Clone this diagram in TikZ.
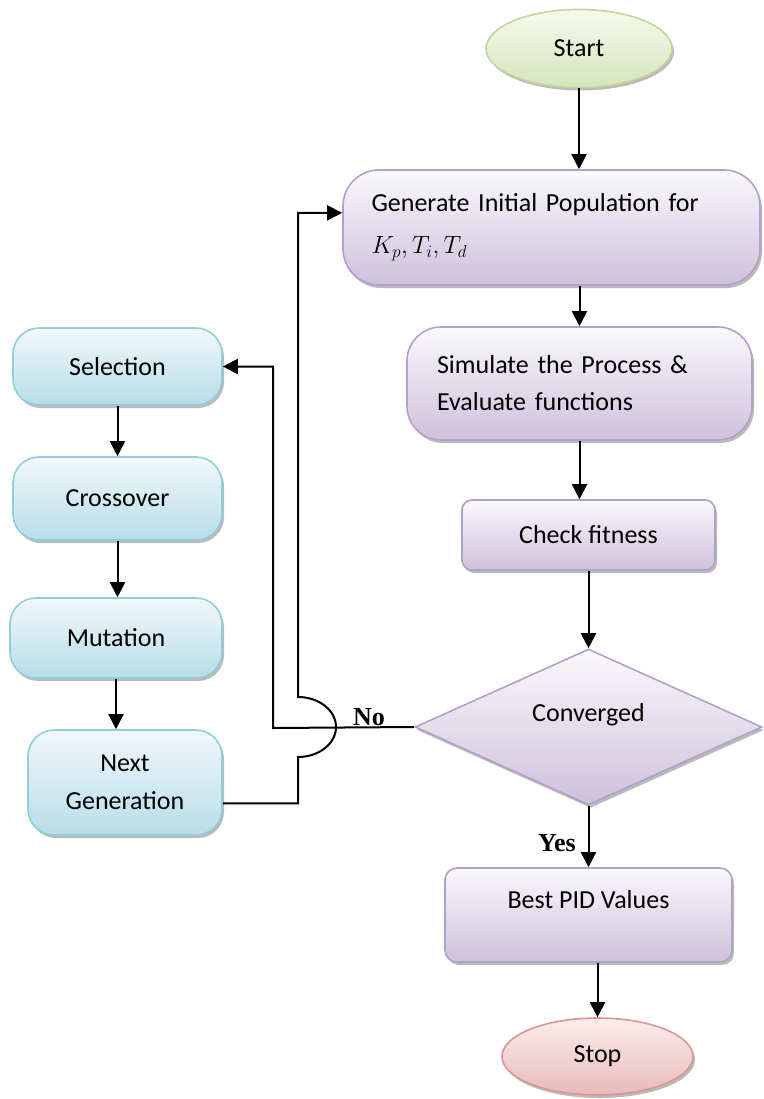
\documentclass[tikz,border=0pt]{standalone}
\usepackage{fontspec}
\setmainfont{Carlito}
\newfontfamily\labelfont{Liberation Serif}
\usetikzlibrary{shapes.geometric, positioning, arrows.meta, shadows}
\definecolor{purpleline}{RGB}{178,160,204}
\definecolor{purpletop}{RGB}{250,249,252}
\definecolor{purplebot}{RGB}{205,193,219}
\definecolor{blueline}{RGB}{146,205,220}
\definecolor{bluetop}{RGB}{241,248,251}
\definecolor{bluebot}{RGB}{183,221,232}
\definecolor{greenline}{RGB}{195,214,155}
\definecolor{greentop}{RGB}{246,250,236}
\definecolor{greenbot}{RGB}{214,228,188}
\definecolor{redline}{RGB}{217,150,148}
\definecolor{redtop}{RGB}{251,237,237}
\definecolor{redbot}{RGB}{232,186,185}
\tikzset{->, >={Triangle[length=15pt,width=15pt]}}

\begin{document}
\begin{tikzpicture}[x=1pt, y=-1pt, line width=2pt, every node/.style={font=\fontsize{26}{38}\selectfont, line width=1.6pt},
shade/.style={drop shadow={shadow xshift=2pt, shadow yshift=-3pt, fill=black!45, opacity=.6}},
block_main/.style={rectangle, draw=purpleline, top color=purpletop, bottom color=purplebot, shade},
block_side/.style={rectangle, rounded corners=26pt, draw=blueline, top color=bluetop, bottom color=bluebot, shade, minimum width=209pt, align=center},
terminal/.style={ellipse, inner sep=0pt, shade},
decision/.style={diamond, aspect=2.2, draw=purpleline, top color=purpletop, bottom color=purplebot, shade, inner sep=0pt, minimum width=347pt, minimum height=156pt},
answer/.style={font=\labelfont\bfseries\fontsize{26}{30}\selectfont, inner sep=1pt}]
    \useasboundingbox (0,0) rectangle (763,1099);

    \node[terminal, draw=greenline, top color=greentop, bottom color=greenbot, minimum width=186pt, minimum height=78pt] (start) at (579,48.5) {Start};
    \node[block_main, rounded corners=36pt, minimum width=417pt, minimum height=115pt, text width=360pt, align=left, font=\fontsize{26}{42}\selectfont] (generate) at (551.5,227.5) {Generate Initial Population for\\ $K_p, T_i, T_d$};
    \node[block_main, rounded corners=34pt, minimum width=345pt, minimum height=113pt, text width=285pt, align=left, font=\fontsize{26}{37}\selectfont] (simulate) at (579.5,383.5) {Simulate the Process \&\\ Evaluate functions};
    \node[block_main, rounded corners=10pt, minimum width=253pt, minimum height=70pt] (check) at (588.5,535) {Check fitness};
    \node[decision, text depth=30pt] (conv) at (588.5,727) {Converged};
    \node[block_main, rounded corners=12pt, minimum width=287pt, minimum height=94pt, text depth=32pt] (best) at (588.5,915) {Best PID Values};
    \node[terminal, draw=redline, top color=redtop, bottom color=redbot, minimum width=191pt, minimum height=77pt] (stop) at (597.5,1056.5) {Stop};

    \node[block_side, minimum height=77pt] (selection) at (117.5,366.5) {Selection};
    \node[block_side, minimum height=83pt] (crossover) at (117.5,498.5) {Crossover};
    \node[block_side, minimum width=212pt, minimum height=80pt] (mutation) at (116,638) {Mutation};
    \node[block_side, minimum width=194pt, minimum height=105pt] (nextgen) at (125,782.5) {Next\\ Generation};

    \coordinate (hopin) at (298,757);
    \coordinate (nobend) at (273,728);

    \draw (start.south) -- (start.south |- generate.north);
    \draw (simulate.north |- generate.south) -- (simulate.north);
    \draw (simulate.south) -- (simulate.south |- check.north);
    \draw (check.south) -- (conv.north);
    \draw (conv.south) -- node[answer, pos=.6, left, inner xsep=12pt] (yes) {Yes} (best.north);
    \draw (stop.north |- best.south) -- (stop.north);

    \draw (selection.south) -- (crossover.north);
    \draw (crossover.south) -- (crossover.south |- mutation.north);
    \draw (mutation.south) -- (nextgen.north -| mutation.south);

    \draw (conv.west) -- node[answer, pos=.32, above] (no) {No} (nobend) |- (selection.east);
    \draw (nextgen.-12) -| (hopin) arc[start angle=-90, end angle=90, x radius=38pt, y radius=30pt] |- (generate.176);
\end{tikzpicture}
\end{document}
